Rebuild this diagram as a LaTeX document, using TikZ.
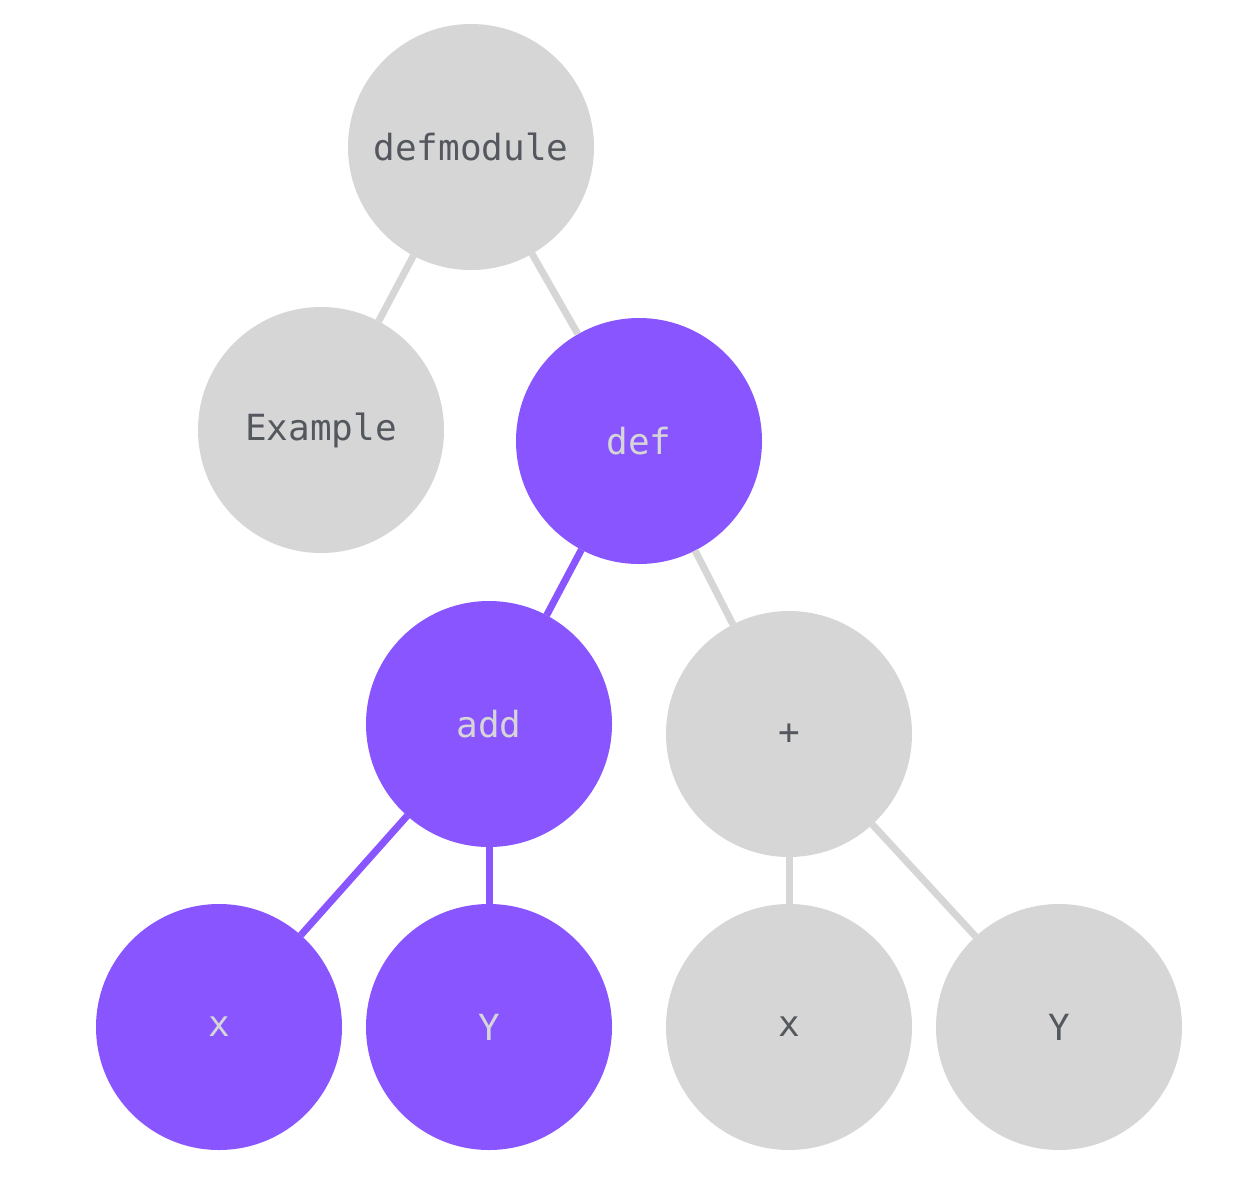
\documentclass[tikz,border=0pt]{standalone}
\usepackage{fontspec}
\setmonofont{DejaVu Sans Mono}
\definecolor{nodegrey}{HTML}{D6D6D6}
\definecolor{accent}{HTML}{8855FF}
\definecolor{inkdark}{HTML}{54585E}
\begin{document}
\begin{tikzpicture}[x=1pt,y=-1pt,
  treenode/.style={circle,minimum size=246pt,inner sep=0pt,outer sep=0pt,
    font=\ttfamily\fontsize{36}{36}\selectfont},
  plain/.style={treenode,fill=nodegrey,text=inkdark},
  hot/.style={treenode,fill=accent,text=nodegrey},
  link/.style={line width=7pt,draw=nodegrey},
  hotlink/.style={line width=7pt,draw=accent}]
\useasboundingbox (0,0) rectangle (1240,1194);
\node[plain] (defmodule) at (471,147) {defmodule};
\node[plain] (example) at (321,430) {Example};
\node[hot] (def) at (639,441) {def};
\node[hot] (add) at (489,724) {add};
\node[plain] (plus) at (789,734) {+};
\node[hot] (x1) at (219,1027) {x};
\node[hot] (y1) at (489,1027) {Y};
\node[plain] (x2) at (789,1027) {x};
\node[plain] (y2) at (1059,1027) {Y};
\draw[link] (defmodule) -- (example);
\draw[link] (defmodule) -- (def);
\draw[hotlink] (def) -- (add);
\draw[link] (def) -- (plus);
\draw[hotlink] (add) -- (x1);
\draw[hotlink] (add) -- (y1);
\draw[link] (plus) -- (x2);
\draw[link] (plus) -- (y2);
\end{tikzpicture}
\end{document}
